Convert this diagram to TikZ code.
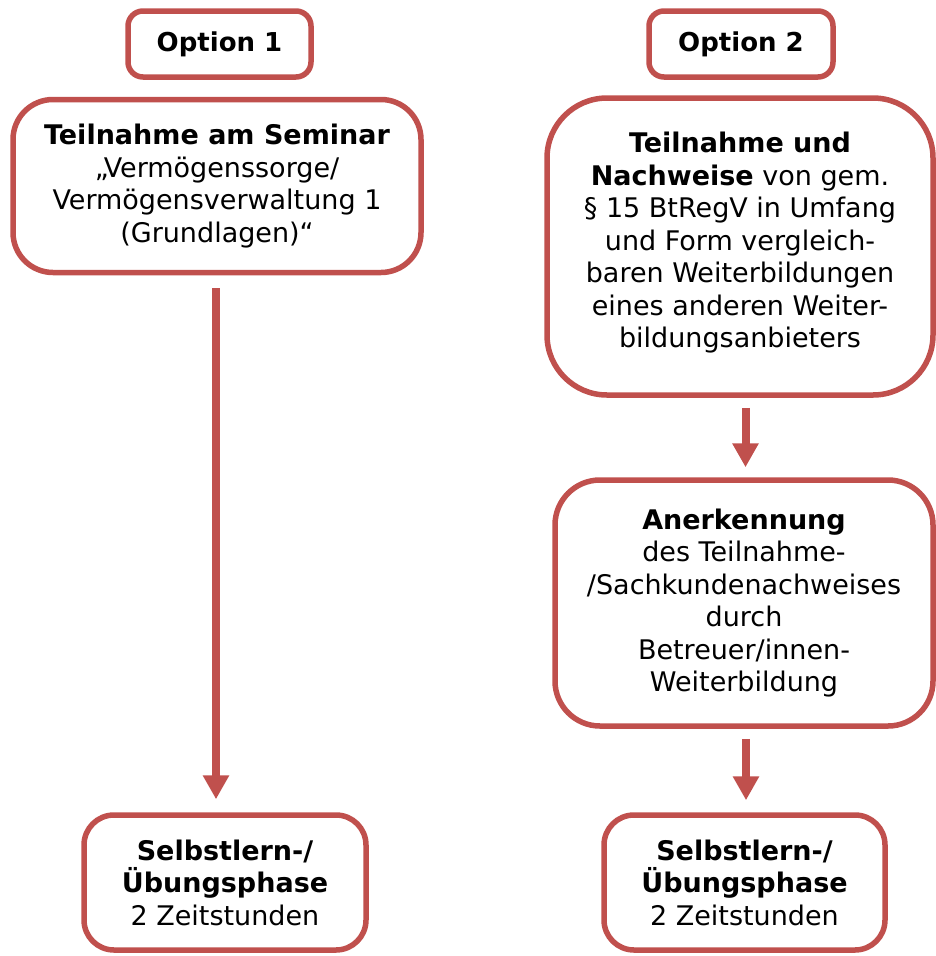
\documentclass[tikz,border=0pt]{standalone}
\usepackage{fontspec}
\setmainfont{DejaVu Sans}
\usetikzlibrary{arrows.meta}
\definecolor{accred}{HTML}{C0504D}
\tikzset{
  box/.style={draw=accred, line width=5.5pt, fill=white, align=center,
    inner sep=0pt, font=\fontsize{27}{32.5}\selectfont},
  optbox/.style={box, font=\fontsize{26}{32.5}\selectfont,
    minimum height=66pt, rounded corners=15pt},
  flowarrow/.style={draw=accred, line width=8pt,
    -{Triangle[width=25pt,length=24pt]}}
}
\begin{document}
\begin{tikzpicture}[x=1pt,y=-1pt]
\useasboundingbox (0,0) rectangle (936,956);
\begin{scope}
\clip (0,0) rectangle (936,956);
\node[optbox, minimum width=183pt] (opt1) at (219.5,44) {\textbf{Option 1}};
\node[optbox, minimum width=184pt] (opt2) at (741,44) {\textbf{Option 2}};
\node[box, minimum width=408pt, minimum height=173pt, rounded corners=40pt] (sem) at (217,186)
  {\textbf{Teilnahme am Seminar}\\„Vermögenssorge/\\Vermögensverwaltung 1\\(Grundlagen)“};
\node[box, minimum width=386pt, minimum height=297pt, rounded corners=60pt] (nach) at (740,246.5)
  {\mbox{}\\[-19pt]\textbf{Teilnahme und}\\\textbf{Nachweise} von gem.\\§ 15 BtRegV in Umfang\\und Form vergleich-\\baren Weiterbildungen\\eines anderen Weiter-\\bildungsanbieters};
\node[box, minimum width=378pt, minimum height=246pt, rounded corners=45pt] (anr) at (744,603)
  {\textbf{Anerkennung}\\des Teilnahme-\\/Sachkundenachweises\\durch\\Betreuer/innen-\\Weiterbildung};
\node[box, minimum width=282pt, minimum height=135pt, rounded corners=30pt] (sel1) at (225,882.5)
  {\textbf{Selbstlern-/}\\\textbf{Übungsphase}\\2 Zeitstunden};
\node[box, minimum width=281pt, minimum height=135pt, rounded corners=30pt] (sel2) at (744.5,882.5)
  {\textbf{Selbstlern-/}\\\textbf{Übungsphase}\\2 Zeitstunden};
\end{scope}
\draw[flowarrow, shorten <=13pt, shorten >=13pt] ([xshift=-1pt]sem.south) -- ([xshift=-1pt]sem.south |- sel1.north);
\draw[flowarrow, shorten <=10pt, shorten >=10pt] ([xshift=5.5pt]nach.south) -- ([xshift=5.5pt]nach.south |- anr.north);
\draw[flowarrow, shorten <=10pt, shorten >=12pt] ([xshift=2pt]anr.south) -- ([xshift=2pt]anr.south |- sel2.north);
\end{tikzpicture}
\end{document}
